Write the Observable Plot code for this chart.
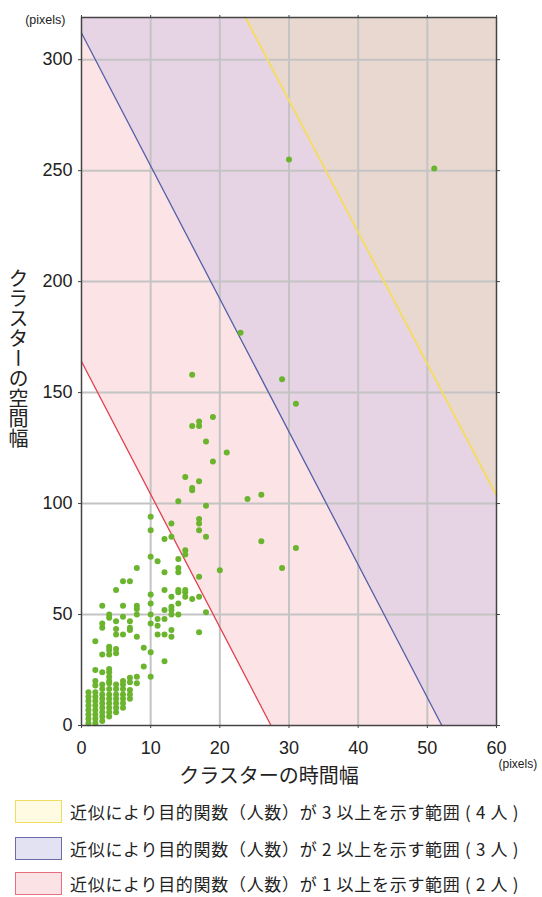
<!DOCTYPE html>
<html><head><meta charset="utf-8">
<script src="https://cdn.jsdelivr.net/npm/d3@7"></script>
<script src="https://cdn.jsdelivr.net/npm/@observablehq/plot@0.6"></script>
<style>
body{margin:0;background:#fff;}
#wrap{position:relative;width:542px;height:897px;overflow:hidden;}
.leg{position:absolute;left:15px;height:23px;display:flex;align-items:center;}
.box{width:47px;height:23px;box-sizing:border-box;border:1.5px solid;}
.lt{margin-left:8px;font-family:"Noto Sans CJK JP";font-size:17px;line-height:1;letter-spacing:0.7px;color:#222;white-space:nowrap;}
</style></head>
<body><div id="wrap"></div>
<script>
const xTicks = [0, 10, 20, 30, 40, 50, 60];
const yTicks = [0, 50, 100, 150, 200, 250, 300];
const xLabel = "クラスターの時間幅";
const yLabel = "クラスターの空間幅";
const unitLabel = "(pixels)";

// cluster data: time width (x) and the space widths (y) observed at that x
const clusterX = [1,2,3,4,5,6,7,8,9,10,11,12,13,14,15,16,17,18,19,20,21,23,24,26,29,30,31,51];
const clusterY = [
  [1,3,5,7,9,11,13,15],
  [1,3,5,7,9,11,13,15,18,20,25,38],
  [2,4,6,8,10,12,14,16.5,18.5,24,32,44,46,54],
  [4,6,8,10,12,14,16.5,19,20,22,24,25.5,32,34,35.5,48.5,50],
  [6,8,10,12,14,16.5,18.5,32.5,34.5,41,43.5,47,61],
  [8,10,12,14,16.5,18.5,20,41,49,54,65],
  [12,14,16,19.5,21.5,43,44,47,65],
  [19,22,40,50,52.5,54,71],
  [26.6,35],
  [22,33,46,50,55,59,76,88,94],
  [41,45,48,74],
  [29,41,48,52,61,69,84],
  [40,43,50,52,53.5,58,85,91],
  [50,55,60,61,69,71,75,101],
  [58,60,61,77,79,112],
  [57,106,107,135,158],
  [42,58,67,88,91,93,110,135,137],
  [51,85,99,128],
  [119,139],
  [70],
  [123],
  [177],
  [102],
  [83,104],
  [71,156],
  [255],
  [80,145],
  [251]
];

// boundary lines (approximation: objective >= 1, 2, 3)
const redLine = [{x:0, y:164}, {x:27.4, y:0}];
const blueLine = [{x:0, y:312}, {x:52.1, y:0}];
const yellowLine = [{x:23.7, y:319}, {x:60, y:103.6}];
// region outlines (line + bottom-right corner)
const redRegion = [{x:0, y:164}, {x:27.4, y:0}, {x:60, y:0}];
const blueRegion = [{x:0, y:312}, {x:52.1, y:0}, {x:60, y:0}];
const yellowRegion = [{x:23.7, y:319}, {x:60, y:103.6}];
const yTop = 319;

const legendLabels = [
  "近似により目的関数（人数）が 3 以上を示す範囲 ( 4 人 )",
  "近似により目的関数（人数）が 2 以上を示す範囲 ( 3 人 )",
  "近似により目的関数（人数）が 1 以上を示す範囲 ( 2 人 )"
];
const legendFill = ["#fffbe3", "#e3e2f2", "#fbe3e5"];
const legendStroke = ["#f0dc60", "#6c6ca8", "#e8707e"];

const points = clusterX.flatMap((x, i) => clusterY[i].map(y => ({x, y})));

const plot = Plot.plot({
  width: 542, height: 790,
  marginLeft: 81, marginRight: 46, marginTop: 17, marginBottom: 65,
  x: {domain: [0, 60]},
  y: {domain: [0, yTop]},
  style: {fontFamily: "'Liberation Sans', Arial, sans-serif", color: "#222", background: "transparent"},
  marks: [
    Plot.areaY(redRegion, {x: "x", y1: "y", y2: yTop, fill: "#fce3e5"}),
    Plot.areaY(blueRegion, {x: "x", y1: "y", y2: yTop, fill: "#e6d3e3"}),
    Plot.areaY(yellowRegion, {x: "x", y1: "y", y2: yTop, fill: "#e9d8d0"}),
    Plot.gridX(xTicks.slice(1, -1), {stroke: "#c4c4c4", strokeOpacity: 1, strokeWidth: 2}),
    Plot.gridY(yTicks.slice(1), {stroke: "#c4c4c4", strokeOpacity: 1, strokeWidth: 2}),
    Plot.line(redLine, {x: "x", y: "y", stroke: "#e0404f", strokeWidth: 1.3}),
    Plot.line(blueLine, {x: "x", y: "y", stroke: "#5560a8", strokeWidth: 1.3}),
    Plot.line(yellowLine, {x: "x", y: "y", stroke: "#f3dc68", strokeWidth: 2}),
    Plot.dot(points, {x: "x", y: "y", r: 3, fill: "#6ab42e"}),
    Plot.frame({stroke: "#444", strokeWidth: 1.5}),
    Plot.axisX(xTicks, {tickSize: 3, tickPadding: 13, fontSize: 18, label: null, stroke: "#444"}),
    Plot.axisY(yTicks, {tickSize: 3, tickPadding: 6, fontSize: 18, label: null, stroke: "#444"}),
    Plot.axisX(xTicks, {anchor: "top", tickSize: 3, tickFormat: () => "", label: null, stroke: "#444"}),
    Plot.axisY(yTicks, {anchor: "right", tickSize: 3, tickFormat: () => "", label: null, stroke: "#444"}),
    Plot.text([xLabel], {text: d => d, frameAnchor: "bottom", dx: -20, dy: 57, fontSize: 20, fontFamily: "Noto Sans CJK JP", fill: "#222"}),
    Plot.text([yLabel], {text: d => d, frameAnchor: "left", dx: -63, dy: -20, fontSize: 20, fontFamily: "Noto Sans CJK JP", fill: "#222"}),
    Plot.text([unitLabel], {text: d => d, frameAnchor: "top-left", textAnchor: "end", dx: -16, dy: -2, fontSize: 12.5, fill: "#222"}),
    Plot.text([unitLabel], {text: d => d, frameAnchor: "bottom-right", textAnchor: "start", dx: 2, dy: 42, fontSize: 12, fill: "#222"})
  ]
});

// vertical writing for the y label
plot.querySelectorAll("text").forEach(t => {
  if (t.textContent === yLabel) {
    t.setAttribute("style", "writing-mode: vertical-rl; text-orientation: upright;");
    t.removeAttribute("dy");
    t.setAttribute("text-anchor", "middle");
  }
});

const wrap = document.getElementById("wrap");
plot.style.position = "absolute";
plot.style.left = "0px";
plot.style.top = "0px";
wrap.appendChild(plot);

const legendTop = [800, 837, 872];
legendLabels.forEach((lab, i) => {
  const row = document.createElement("div");
  row.className = "leg";
  row.style.top = legendTop[i] + "px";
  const box = document.createElement("div");
  box.className = "box";
  box.style.background = legendFill[i];
  box.style.borderColor = legendStroke[i];
  const txt = document.createElement("span");
  txt.className = "lt";
  txt.textContent = lab;
  row.appendChild(box);
  row.appendChild(txt);
  wrap.appendChild(row);
});
</script>
</body></html>
